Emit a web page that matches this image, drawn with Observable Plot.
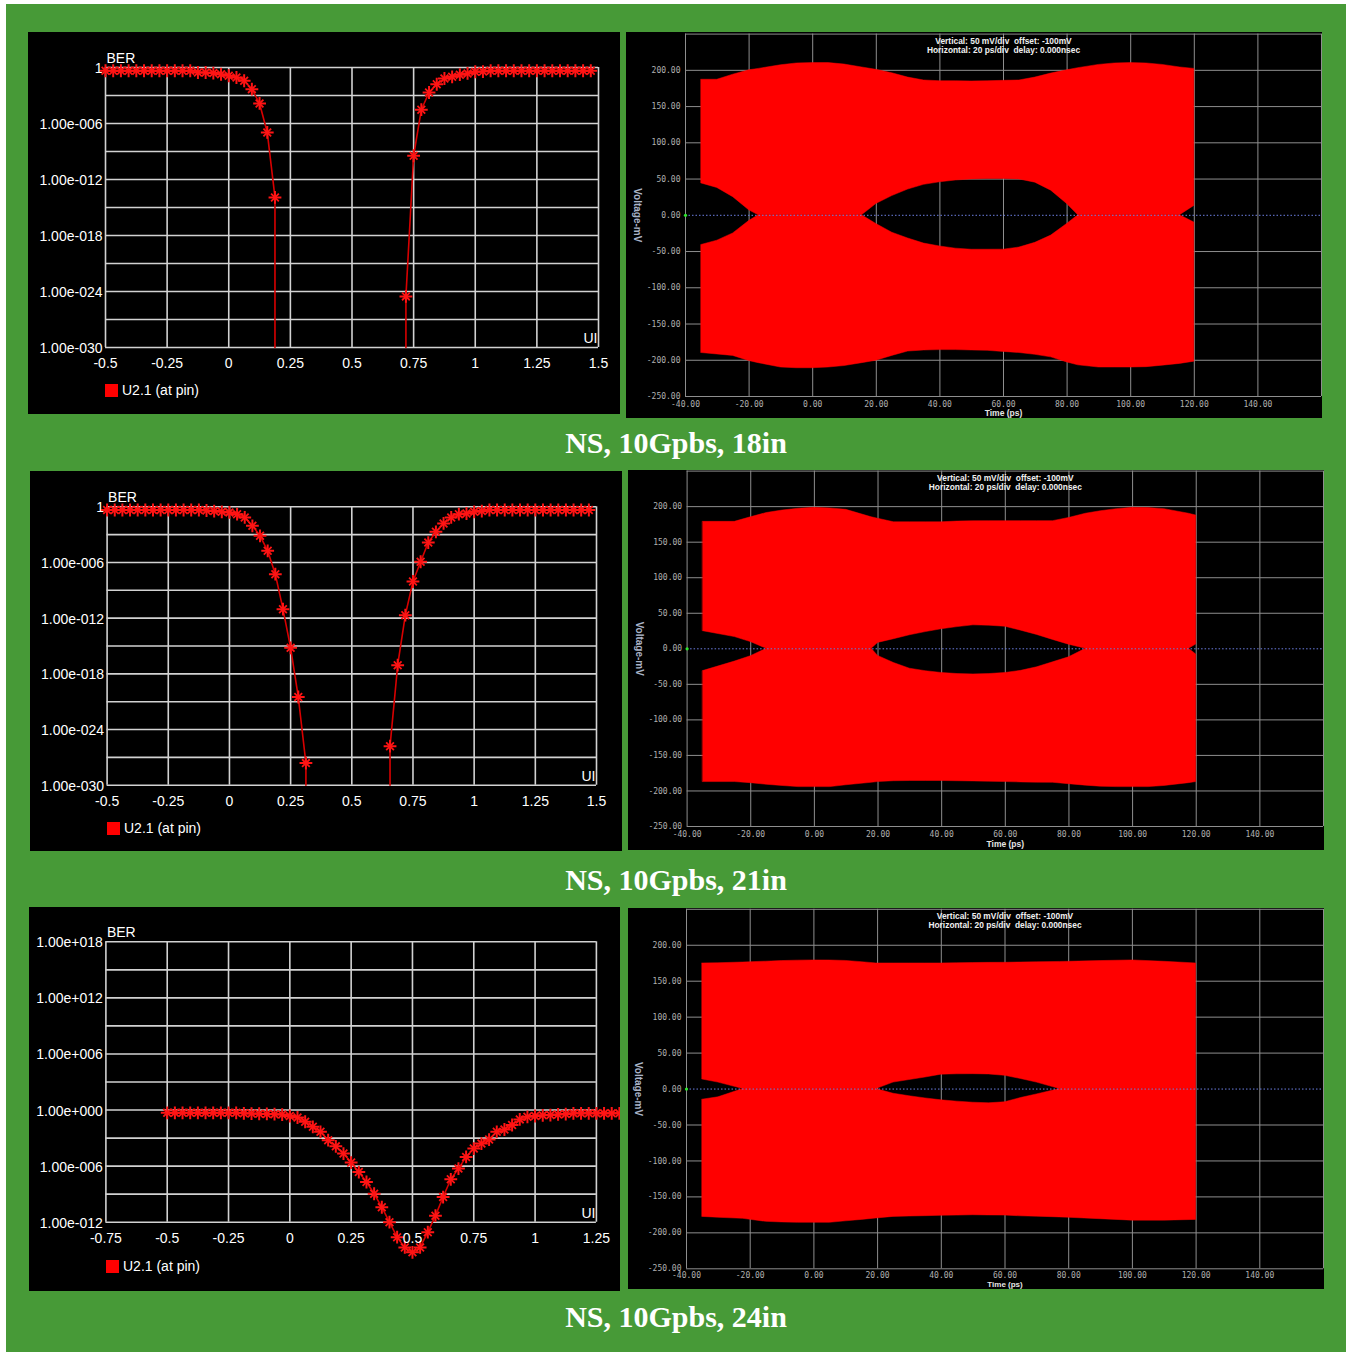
<!DOCTYPE html>
<html><head><meta charset="utf-8">
<script src="https://cdn.jsdelivr.net/npm/d3@7"></script>
<script src="https://cdn.jsdelivr.net/npm/@observablehq/plot@0.6"></script>
<style>
body{margin:0;background:#fff;}
#page{position:relative;width:1348px;height:1355px;overflow:hidden;background:#fff;}
#green{position:absolute;left:6px;top:4px;width:1340px;height:1348px;background:#479a37;}
.panel{position:absolute;background:#000;overflow:hidden;}
.panel svg{display:block;}
.panel svg text.vlabel{letter-spacing:1.5px;}
.legend{position:absolute;font:14px "Liberation Sans",Arial,sans-serif;color:#fff;display:flex;align-items:center;height:14px;white-space:nowrap;}
.legend i{display:inline-block;width:13px;height:13px;background:#f00;margin-right:4px;}
.title{position:absolute;left:0;width:1352px;text-align:center;font:bold 30px "Liberation Serif","Times New Roman",serif;color:#fff;line-height:32px;}
</style></head><body>
<div id="page"><div id="green"></div></div>
<script>
// ---------- shared UI grid (UI positions of the BER samples) ----------
const uiGrid = [-0.5,-0.46875,-0.4375,-0.40625,-0.375,-0.34375,-0.3125,-0.28125,-0.25,-0.21875,-0.1875,-0.15625,-0.125,-0.09375,-0.0625,-0.03125,0,0.03125,0.0625,0.09375,0.125,0.15625,0.1875,0.21875,0.25,0.28125,0.3125,0.34375,0.375,0.40625,0.4375,0.46875,0.5,0.53125,0.5625,0.59375,0.625,0.65625,0.6875,0.71875,0.75,0.78125,0.8125,0.84375,0.875,0.90625,0.9375,0.96875,1,1.03125,1.0625,1.09375,1.125,1.15625,1.1875,1.21875,1.25,1.28125,1.3125,1.34375,1.375,1.40625,1.4375,1.46875];

// ---------- BER, 18 in ----------
const ber18LeftUI = uiGrid.slice(0, 23).concat([0.1875]);
const ber18Left = [0.45,0.45,0.45,0.45,0.45,0.45,0.45,0.45,0.45,0.45,0.45,0.45,0.29,0.29,0.25,0.19,0.13,0.085,0.038,4.8e-3,1.4e-4,1.1e-7,1.2e-14,1e-30];
const ber18RightUI = [0.71875].concat(uiGrid.slice(39));
const ber18Right = [1e-30,3e-25,3.5e-10,3e-5,2.1e-3,0.016,0.066,0.1,0.17,0.23,0.35,0.37,0.45,0.45,0.45,0.45,0.45,0.45,0.45,0.45,0.45,0.45,0.45,0.45,0.45,0.45];

// ---------- BER, 21 in ----------
const ber21LeftUI = uiGrid.slice(0, 27).concat([0.3125]);
const ber21Left = [0.45,0.45,0.45,0.45,0.45,0.45,0.45,0.45,0.45,0.45,0.45,0.45,0.45,0.4,0.35,0.29,0.25,0.16,0.071,8.9e-3,7.5e-4,1.8e-5,5.5e-8,9.3e-12,6.3e-16,3.2e-21,2.4e-28,1e-30];
const ber21RightUI = [0.65625].concat(uiGrid.slice(37));
const ber21Right = [1e-30,1.6e-26,8.5e-18,2.1e-12,8.9e-9,1.2e-6,1.4e-4,2e-3,0.016,0.071,0.16,0.19,0.29,0.35,0.45,0.45,0.45,0.45,0.45,0.45,0.45,0.45,0.45,0.45,0.45,0.45,0.45,0.45];

// ---------- BER, 24 in ----------
const ber24UI = uiGrid.slice(0, 60);
const ber24 = [0.5,0.5,0.5,0.5,0.5,0.5,0.5,0.5,0.5,0.5,0.45,0.42,0.4,0.38,0.36,0.33,0.23,0.16,0.056,0.016,4.7e-3,6e-4,1.3e-4,2.2e-5,2.4e-6,2.3e-7,2e-8,1.1e-9,4e-11,1e-12,2.5e-14,2e-15,6e-16,2e-15,8.5e-14,5e-12,4.9e-10,3.9e-8,5.4e-7,9.7e-6,7.6e-5,2.6e-4,7e-4,4.7e-3,8.3e-3,0.025,0.1,0.19,0.23,0.27,0.29,0.34,0.37,0.44,0.44,0.44,0.44,0.44,0.44,0.44];

// ---------- BER axes ----------
const berYTicksA = [1,1e-6,1e-12,1e-18,1e-24,1e-30];
const berYLabelsA = ["1","1.00e-006","1.00e-012","1.00e-018","1.00e-024","1.00e-030"];
const berYGridA = [1,1e-3,1e-6,1e-9,1e-12,1e-15,1e-18,1e-21,1e-24,1e-27,1e-30];
const berYTicksB = [1e18,1e12,1e6,1,1e-6,1e-12];
const berYLabelsB = ["1.00e+018","1.00e+012","1.00e+006","1.00e+000","1.00e-006","1.00e-012"];
const berYGridB = [1e18,1e15,1e12,1e9,1e6,1e3,1,1e-3,1e-6,1e-9,1e-12];
const berXTicksA = [-0.5,-0.25,0,0.25,0.5,0.75,1,1.25,1.5];
const berXLabelsA = ["-0.5","-0.25","0","0.25","0.5","0.75","1","1.25","1.5"];
const berXTicksB = [-0.75,-0.5,-0.25,0,0.25,0.5,0.75,1,1.25];
const berXLabelsB = ["-0.75","-0.5","-0.25","0","0.25","0.5","0.75","1","1.25"];

// ---------- Eye diagrams ----------
const t18 = [-35,-30,-25,-20,-17,-10,-5,0,5,10,15.5,20,25,30,35,40,45,50,55,60,65,70,75,80,83.5,90,95,100,105,110,115.5,120];
const top18 = [187,187,194,200,202,207,209.5,210,210,208,204,200.7,196,190,186,185,185,184.7,185,185.5,186,190,195.5,200,203,207.5,209.5,210,209.5,207.5,204,202];
const upIn18 = [44,37.7,25,7,0,0,0,0,0,0,0,15.6,26.5,35.5,42,45.5,48,49.5,50,50,49.5,45,34,15.6,0,0,0,0,0,0,0,13];
const loIn18 = [-41,-35,-25,-8,0,0,0,0,0,0,0,-12,-24,-32,-39,-43,-46,-47.5,-47.5,-47.4,-44.5,-38,-28,-12,0,0,0,0,0,0,0,-10];
const bot18 = [-190,-192,-194,-201,-204,-210,-211,-211,-210,-208,-204,-200.7,-194,-188,-186.5,-186,-186,-186.5,-187,-188.5,-190,-192.5,-196,-203,-207,-210,-210,-210,-209.5,-207.5,-205,-202];

const t21 = [-35,-25,-20,-15,-10,-5,0,5,10,18,20,25,30,35,40,45,50,55,60,65,70,75,80,85.3,90,95,100,105,110,117.7,120];
const top21 = [178.6,178.6,185,191,194.5,197,198.3,197.5,195.5,185,183,178,178,178,178,179,179.5,179.6,179.6,179.6,179.6,179.6,184,190,193.5,196.5,198.3,198,196.5,190,187.5];
const upIn21 = [24.8,16.5,9.5,0,0,0,0,0,0,0,8.3,13.5,19,23.5,27.5,30.5,33,32.5,31,25.5,19.5,12.5,5.8,0,0,0,0,0,0,0,6];
const loIn21 = [-31.4,-18,-10.5,0,0,0,0,0,0,0,-10,-20,-28,-31.5,-34,-35.5,-36,-35.5,-34,-31,-26,-19,-12,0,0,0,0,0,0,0,-8];
const bot21 = [-187.5,-187.5,-189,-191.3,-193,-194.6,-194.6,-194.6,-192,-188.5,-187.5,-186.3,-186,-186,-186,-186.3,-186.6,-187,-187.5,-188,-188.3,-188.5,-190.5,-192.5,-194,-194.6,-194.6,-194.6,-193,-189,-187.5];

const t24 = [-35,-30,-22.2,-15,-10,-5,0,5,10,15,19.6,25,30,35,40,45,50,55,60,65,70,77.2,80,90,100,110,120];
const top24 = [174.7,175,176,177.2,178,178.6,178.9,178.8,178.2,176.5,174.7,174.7,174.7,174.7,174.7,175,175.3,175.5,175.6,176,176.3,176.8,177,178,178.9,177,174.7];
const upIn24 = [13.3,9,0,0,0,0,0,0,0,0,0,9,12.5,16,20,20.5,20.7,20.3,18.4,14,9,0,0,0,0,0,0];
const loIn24 = [-14.8,-11.5,0,0,0,0,0,0,0,0,0,-6.5,-10,-13,-15.7,-17.5,-19,-19.8,-18.4,-12.5,-7.5,0,0,0,0,0,0];
const bot24 = [-177.8,-179,-180.5,-184.7,-185.5,-186,-186,-186,-184,-182,-180,-177.8,-177.3,-176.8,-176.3,-176,-175.5,-175.8,-176,-177,-177.5,-178.5,-179,-181,-183,-183,-182];

const eyeXGrid = [-40,-20,0,20,40,60,80,100,120,140,160];
const eyeYGrid = [-250,-200,-150,-100,-50,50,100,150,200,250];
const eyeXTicks = [-40,-20,0,20,40,60,80,100,120,140];
const eyeXLabels = ["-40.00","-20.00","0.00","20.00","40.00","60.00","80.00","100.00","120.00","140.00"];
const eyeYTicks = [200,150,100,50,0,-50,-100,-150,-200,-250];
const eyeYLabels = ["200.00","150.00","100.00","50.00","0.00","-50.00","-100.00","-150.00","-200.00","-250.00"];
const eyeHeader1 = "Vertical: 50 mV/div\u00a0\u00a0offset: -100mV";
const eyeHeader2 = "Horizontal: 20 ps/div\u00a0\u00a0delay: 0.000nsec";
const titles = ["NS, 10Gpbs, 18in","NS, 10Gpbs, 21in","NS, 10Gpbs, 24in"];

const page = document.getElementById("page");
function panel(x, y, w, h) {
  const d = document.createElement("div");
  d.className = "panel";
  Object.assign(d.style, {left: x + "px", top: y + "px", width: w + "px", height: h + "px"});
  page.appendChild(d);
  return d;
}

function berChart(o) {
  const pts = [];
  o.segs.forEach((s, si) => s.ui.forEach((u, i) => pts.push({ui: u, ber: s.ber[i], seg: si})));
  const mk = pts.filter(d => d.ber > 1e-30);
  return Plot.plot({
    width: o.w, height: o.h,
    marginLeft: o.ml, marginRight: o.mr, marginTop: o.mt, marginBottom: o.mb,
    x: {domain: o.xDomain, axis: null},
    y: {type: "log", domain: o.yDomain, axis: null},
    style: {background: "#000", color: "#fff", fontFamily: "'Liberation Sans', Arial, sans-serif", overflow: "visible"},
    marks: [
      Plot.ruleY(o.yGrid, {stroke: "#d2d2d2", strokeWidth: 1.6}),
      Plot.ruleX(o.xTicks, {stroke: "#d2d2d2", strokeWidth: 1.6}),
      Plot.line(pts, {x: "ui", y: "ber", z: "seg", stroke: "#d80000", strokeWidth: 1.6}),
      Plot.dot(mk, {x: "ui", y: "ber", symbol: "plus", r: 4.2, stroke: "#ff1414", strokeWidth: 2}),
      Plot.dot(mk, {x: "ui", y: "ber", symbol: "times", r: 3.6, stroke: "#ff1414", strokeWidth: 1.8}),
      Plot.text(o.yTicks, {x: o.xDomain[0], y: d => d, text: (d, i) => o.yLabels[i], textAnchor: "end", dx: -3, dy: 1, fontSize: 14, fill: "#fff"}),
      Plot.text(o.xTicks, {x: d => d, y: o.yDomain[0], text: (d, i) => o.xLabels[i], dy: 16, fontSize: 14, fill: "#fff"}),
      Plot.text(["BER"], {frameAnchor: "top-left", lineAnchor: "middle", text: d => d, textAnchor: "start", dx: 1, dy: -9, fontSize: 14, fill: "#fff"}),
      Plot.text(["UI"], {frameAnchor: "bottom-right", lineAnchor: "middle", text: d => d, textAnchor: "end", dx: -1, dy: -9, fontSize: 14, fill: "#fff"})
    ]
  });
}

function eyeChart(o) {
  const rows = o.t.map((t, i) => ({t, top: o.top[i], ui: o.upIn[i], li: o.loIn[i], bot: o.bot[i]}));
  const mono = "'DejaVu Sans Mono', monospace";
  return Plot.plot({
    width: o.w, height: o.h,
    marginLeft: o.ml, marginRight: 1, marginTop: o.mt, marginBottom: o.mb,
    x: {domain: [-40, 160], axis: null},
    y: {domain: [-250, 250], axis: null},
    style: {background: "#000", color: "#fff", fontFamily: "'Liberation Sans', Arial, sans-serif", overflow: "visible"},
    marks: [
      Plot.ruleX(eyeXGrid, {stroke: "#8e8e8e", strokeWidth: 1}),
      Plot.ruleY(eyeYGrid, {stroke: "#8e8e8e", strokeWidth: 1}),
      Plot.areaY(rows, {x: "t", y1: "ui", y2: "top", fill: "#ff0000", stroke: "#ff0000", strokeWidth: 0.5}),
      Plot.areaY(rows, {x: "t", y1: "bot", y2: "li", fill: "#ff0000", stroke: "#ff0000", strokeWidth: 0.5}),
      Plot.ruleY([0], {stroke: "#6c7ee0", strokeWidth: 1, strokeDasharray: "1.5,2"}),
      Plot.dot([0], {x: -40, y: 0, r: 1.6, fill: "#2ee62e"}),
      Plot.text(eyeYTicks, {x: -40, y: d => d, text: (d, i) => eyeYLabels[i], textAnchor: "end", dx: -5, fontFamily: mono, fontSize: 8, fill: "#b0b0b0"}),
      Plot.text(eyeXTicks, {x: d => d, y: -250, text: (d, i) => eyeXLabels[i], dy: o.tickDy, fontFamily: mono, fontSize: 8, fill: "#b0b0b0"}),
      Plot.text(["Time (ps)"], {x: 60, y: -250, text: d => d, dy: o.timeDy, fontSize: o.timeSize, fontWeight: "bold", fill: "#e6e6e6"}),
      Plot.text([eyeHeader1], {x: 60, y: 250, text: d => d, dy: 7, fontSize: 8.4, fontWeight: "bold", fill: "#f0f0f0"}),
      Plot.text([eyeHeader2], {x: 60, y: 250, text: d => d, dy: 16, fontSize: 8.4, fontWeight: "bold", fill: "#f0f0f0"}),
      Plot.text(["Voltage-mV"], {x: -40, y: 0, text: d => d, dx: -48, rotate: 90, fontSize: 10, fontWeight: "bold", fill: "#aab4c8", className: "vlabel"})
    ]
  });
}

function legend(p, x, y) {
  const l = document.createElement("div");
  l.className = "legend";
  l.style.left = x + "px"; l.style.top = y + "px";
  l.innerHTML = "<i></i>U2.1 (at pin)";
  p.appendChild(l);
}
function title(text, y) {
  const t = document.createElement("div");
  t.className = "title";
  t.style.top = y + "px";
  t.textContent = text;
  page.appendChild(t);
}

// Row 1
let p = panel(28, 32, 592, 382);
p.appendChild(berChart({w: 592, h: 382, ml: 77, mr: 22, mt: 35, mb: 67,
  xDomain: [-0.5, 1.5], yDomain: [1e-30, 1], yGrid: berYGridA, yTicks: berYTicksA, yLabels: berYLabelsA,
  xTicks: berXTicksA, xLabels: berXLabelsA,
  segs: [{ui: ber18LeftUI, ber: ber18Left}, {ui: ber18RightUI, ber: ber18Right}]}));
legend(p, 77, 351);
p = panel(626, 32, 696, 386);
p.appendChild(eyeChart({w: 696, h: 386, ml: 59, mt: 1.6, mb: 22, tickDy: 8, timeDy: 16.5, timeSize: 8.5, t: t18, top: top18, upIn: upIn18, loIn: loIn18, bot: bot18}));
title(titles[0], 427);

// Row 2
p = panel(30, 471, 592, 380);
p.appendChild(berChart({w: 592, h: 380, ml: 76.6, mr: 26, mt: 35.3, mb: 66.3,
  xDomain: [-0.5, 1.5], yDomain: [1e-30, 1], yGrid: berYGridA, yTicks: berYTicksA, yLabels: berYLabelsA,
  xTicks: berXTicksA, xLabels: berXLabelsA,
  segs: [{ui: ber21LeftUI, ber: ber21Left}, {ui: ber21RightUI, ber: ber21Right}]}));
legend(p, 77, 350);
p = panel(628, 470, 696, 380);
p.appendChild(eyeChart({w: 696, h: 380, ml: 58.6, mt: 0.6, mb: 24, tickDy: 8, timeDy: 17.5, timeSize: 8.5, t: t21, top: top21, upIn: upIn21, loIn: loIn21, bot: bot21}));
title(titles[1], 864);

// Row 3
p = panel(29, 907, 591, 384);
p.appendChild(berChart({w: 591, h: 384, ml: 76.4, mr: 24.1, mt: 34.3, mb: 69.3,
  xDomain: [-0.75, 1.25], yDomain: [1e-12, 1e18], yGrid: berYGridB, yTicks: berYTicksB, yLabels: berYLabelsB,
  xTicks: berXTicksB, xLabels: berXLabelsB,
  segs: [{ui: ber24UI, ber: ber24}]}));
legend(p, 77, 352);
p = panel(628, 908, 696, 381);
p.appendChild(eyeChart({w: 696, h: 381, ml: 58, mt: 0.8, mb: 20.7, tickDy: 6.5, timeDy: 15.2, timeSize: 8, t: t24, top: top24, upIn: upIn24, loIn: loIn24, bot: bot24}));
title(titles[2], 1301);
</script></body></html>
